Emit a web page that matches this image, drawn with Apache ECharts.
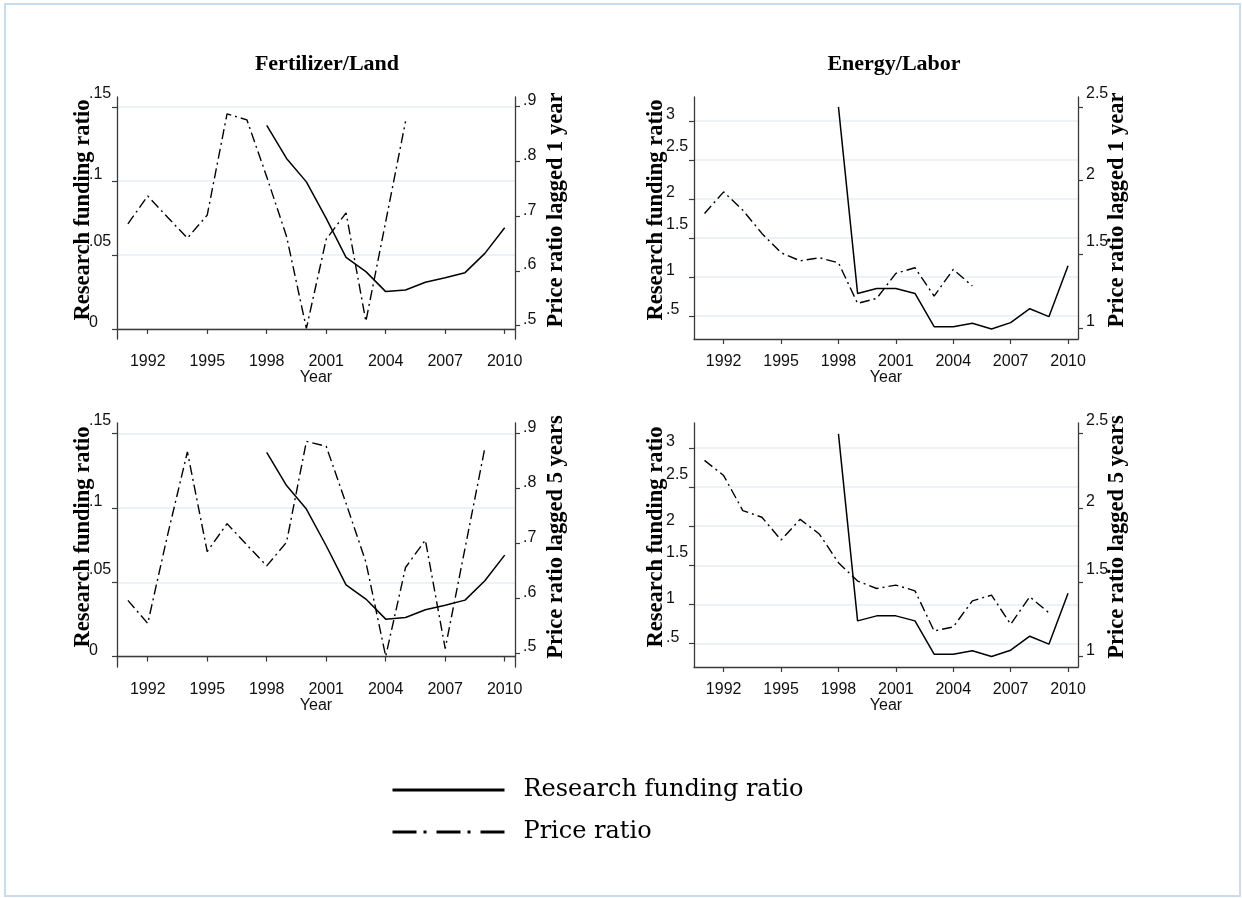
<!DOCTYPE html>
<html><head><meta charset="utf-8">
<script src="https://cdn.jsdelivr.net/npm/echarts@6/dist/echarts.min.js"></script>
<style>
html,body{margin:0;padding:0;background:#fff;}
#chart{position:absolute;left:0;top:0;width:1242px;height:898px;}
#frame{position:absolute;left:4px;top:3px;width:1233px;height:890px;border:2px solid #c9dbef;pointer-events:none;}
</style></head><body>
<div id="chart"></div><div id="frame"></div>
<script>
// ---- data ----
const fundingYears = [1998,1999,2000,2001,2002,2003,2004,2005,2006,2007,2008,2009,2010];
const priceYearsLag1 = [1991,1992,1993,1994,1995,1996,1997,1998,1999,2000,2001,2002,2003,2004,2005];
const priceYearsLag5 = [1991,1992,1993,1994,1995,1996,1997,1998,1999,2000,2001,2002,2003,2004,2005,2006,2007,2008,2009];

const fertFunding = [0.1375,0.1151,0.0993,0.0746,0.0483,0.0387,0.0252,0.0263,0.0315,0.0346,0.0380,0.0510,0.0683];
const fertPriceLag1 = [0.686,0.737,0.698,0.660,0.702,0.887,0.876,0.772,0.663,0.495,0.658,0.706,0.508,0.690,0.873];
const fertPriceLag5 = [0.596,0.554,0.715,0.867,0.685,0.736,0.697,0.659,0.702,0.886,0.877,0.773,0.666,0.494,0.656,0.706,0.508,0.691,0.874];

const energyFunding = [3.18,0.79,0.854,0.854,0.79,0.364,0.364,0.407,0.334,0.415,0.594,0.492,1.144];
const energyPriceLag1 = [1.777,1.924,1.800,1.642,1.511,1.456,1.477,1.443,1.167,1.201,1.371,1.409,1.217,1.398,1.285];
const energyPriceLag5 = [2.320,2.218,1.982,1.937,1.784,1.923,1.824,1.631,1.507,1.457,1.480,1.441,1.171,1.198,1.374,1.412,1.216,1.401,1.293];

const yearTicks = [1992,1995,1998,2001,2004,2007,2010];
const fertLeftTicks = [0,0.05,0.1,0.15];
const fertRightTicks = [0.5,0.6,0.7,0.8,0.9];
const energyLeftTicks = [0.5,1,1.5,2,2.5,3];
const energyRightTicks = [1,1.5,2,2.5];

const panelTitles = ['Fertilizer/Land','Energy/Labor'];
const leftName = 'Research funding ratio';
const rightNames = ['Price ratio lagged 1 year','Price ratio lagged 5 years'];
const seriesNames = ['Research funding ratio','Price ratio'];
const xName = 'Year';

// ---- helpers ----
function pairs(xs, ys){ return xs.map((x,i)=>[x, ys[i]]); }
function stata(v){ let s = String(+(+v).toFixed(4)); if (s.startsWith('0.')) s = s.slice(1); return s; }
function yLabel(v){ const s = stata(v); return s.length >= 3 ? '{a|'+s+'}' : '{b|'+s+'}'; }

const AX = '#3a3a3a';
const sans = 'Liberation Sans';
const serif = 'Liberation Serif';
const richLab = {
  a:{fontFamily:sans,fontSize:16,color:'#111',padding:[0,0,26,0]},
  b:{fontFamily:sans,fontSize:16,color:'#111',padding:[0,0,12,0]}
};

const grids = [
  {left:117, top:97, width:398, height:242},
  {left:694, top:97, width:384, height:242},
  {left:117, top:423, width:398, height:244},
  {left:694, top:423, width:384, height:244}
];

function xAxis(g){
  return {
    type:'value', gridIndex:g, min:1990.45, max:2010.52,
    name:xName, nameLocation:'middle', nameGap:31, nameMoveOverlap:false,
    nameTextStyle:{fontFamily:sans,fontSize:16,color:'#111'},
    axisLine:{show:true,lineStyle:{color:AX,width:1.3}},
    axisTick:{show:true,length:5,customValues:yearTicks,lineStyle:{color:AX,width:1.2}},
    axisLabel:{customValues:yearTicks,margin:15,fontFamily:sans,fontSize:16,color:'#111',formatter:v=>String(v)},
    splitLine:{show:false}
  };
}
function leftAxis(g, min, max, ticks, gap){
  return {
    type:'value', gridIndex:g, position:'left', min:min, max:max,
    name:leftName, nameLocation:'middle', nameGap:gap, nameRotate:90, nameMoveOverlap:false,
    nameTextStyle:{fontFamily:serif,fontWeight:'bold',fontSize:22.5,color:'#000',padding:[0,0,0,16]},
    axisLine:{show:true,lineStyle:{color:AX,width:1.3}},
    axisTick:{show:true,length:5,customValues:ticks,lineStyle:{color:AX,width:1.2}},
    axisLabel:{customValues:ticks,margin:28,align:'left',formatter:yLabel,rich:richLab},
    splitLine:{show:true,lineStyle:{color:'#e6eef2',width:1.6}}
  };
}
function rightAxis(g, min, max, ticks, name, gap){
  return {
    type:'value', gridIndex:g, position:'right', min:min, max:max,
    name:name, nameLocation:'middle', nameGap:gap, nameRotate:90, nameMoveOverlap:false,
    nameTextStyle:{fontFamily:serif,fontWeight:'bold',fontSize:22.5,color:'#000',padding:[0,0,0,16]},
    axisLine:{show:true,onZero:false,lineStyle:{color:AX,width:1.3}},
    axisTick:{show:true,length:5,customValues:ticks,lineStyle:{color:AX,width:1.2}},
    axisLabel:{customValues:ticks,margin:8,align:'left',formatter:yLabel,rich:richLab},
    splitLine:{show:false}
  };
}

const solid = {color:'#000',width:1.5,type:'solid'};
const dashdot = {color:'#000',width:1.4,type:[10,4,2,4]};

function line(name, xi, yi, data, style){
  return {type:'line', name:name, xAxisIndex:xi, yAxisIndex:yi, data:data,
    symbol:'none', lineStyle:style, itemStyle:{color:'#000'}, silent:true, animation:false};
}

const option = {
  backgroundColor:'#fff',
  animation:false,
  title:[
    {text:panelTitles[0], left:322, top:48, textAlign:'center',
     textStyle:{fontFamily:serif,fontWeight:'bold',fontSize:22,color:'#000'}},
    {text:panelTitles[1], left:889, top:48, textAlign:'center',
     textStyle:{fontFamily:serif,fontWeight:'bold',fontSize:22,color:'#000'}}
  ],
  grid:grids,
  xAxis:[xAxis(0),xAxis(1),xAxis(2),xAxis(3)],
  yAxis:[
    leftAxis(0,-0.0068,0.1566,fertLeftTicks,22),
    rightAxis(0,0.4757,0.9177,fertRightTicks,rightNames[0],30),
    leftAxis(1,0.2056,3.307,energyLeftTicks,26),
    rightAxis(1,0.9254,2.568,energyRightTicks,rightNames[0],27.5),
    leftAxis(2,-0.0070,0.1572,fertLeftTicks,22),
    rightAxis(2,0.4744,0.9196,fertRightTicks,rightNames[1],30),
    leftAxis(3,0.20,3.32,energyLeftTicks,26),
    rightAxis(3,0.928,2.572,energyRightTicks,rightNames[1],27.5)
  ],
  legend:{
    orient:'vertical', left:386, top:770, itemWidth:112, itemHeight:30, itemGap:12,
    textStyle:{fontFamily:'DejaVu Serif',fontSize:24,color:'#000',lineHeight:30,padding:[0,0,0,14]},
    itemStyle:{opacity:0},
    data:[
      {name:seriesNames[0], lineStyle:{color:'#000',width:3,type:'solid'}},
      {name:seriesNames[1], lineStyle:{color:'#000',width:3,type:[24,7,3,10]}}
    ],
    selectedMode:false
  },
  series:[
    line(seriesNames[0],0,0,pairs(fundingYears,fertFunding),solid),
    line(seriesNames[1],0,1,pairs(priceYearsLag1,fertPriceLag1),dashdot),
    line(seriesNames[0],1,2,pairs(fundingYears,energyFunding),solid),
    line(seriesNames[1],1,3,pairs(priceYearsLag1,energyPriceLag1),dashdot),
    line(seriesNames[0],2,4,pairs(fundingYears,fertFunding),solid),
    line(seriesNames[1],2,5,pairs(priceYearsLag5,fertPriceLag5),dashdot),
    line(seriesNames[0],3,6,pairs(fundingYears,energyFunding),solid),
    line(seriesNames[1],3,7,pairs(priceYearsLag5,energyPriceLag5),dashdot)
  ]
};
const chart = echarts.init(document.getElementById('chart'), null, {renderer:'canvas'});
chart.setOption(option);
</script>
</body></html>
